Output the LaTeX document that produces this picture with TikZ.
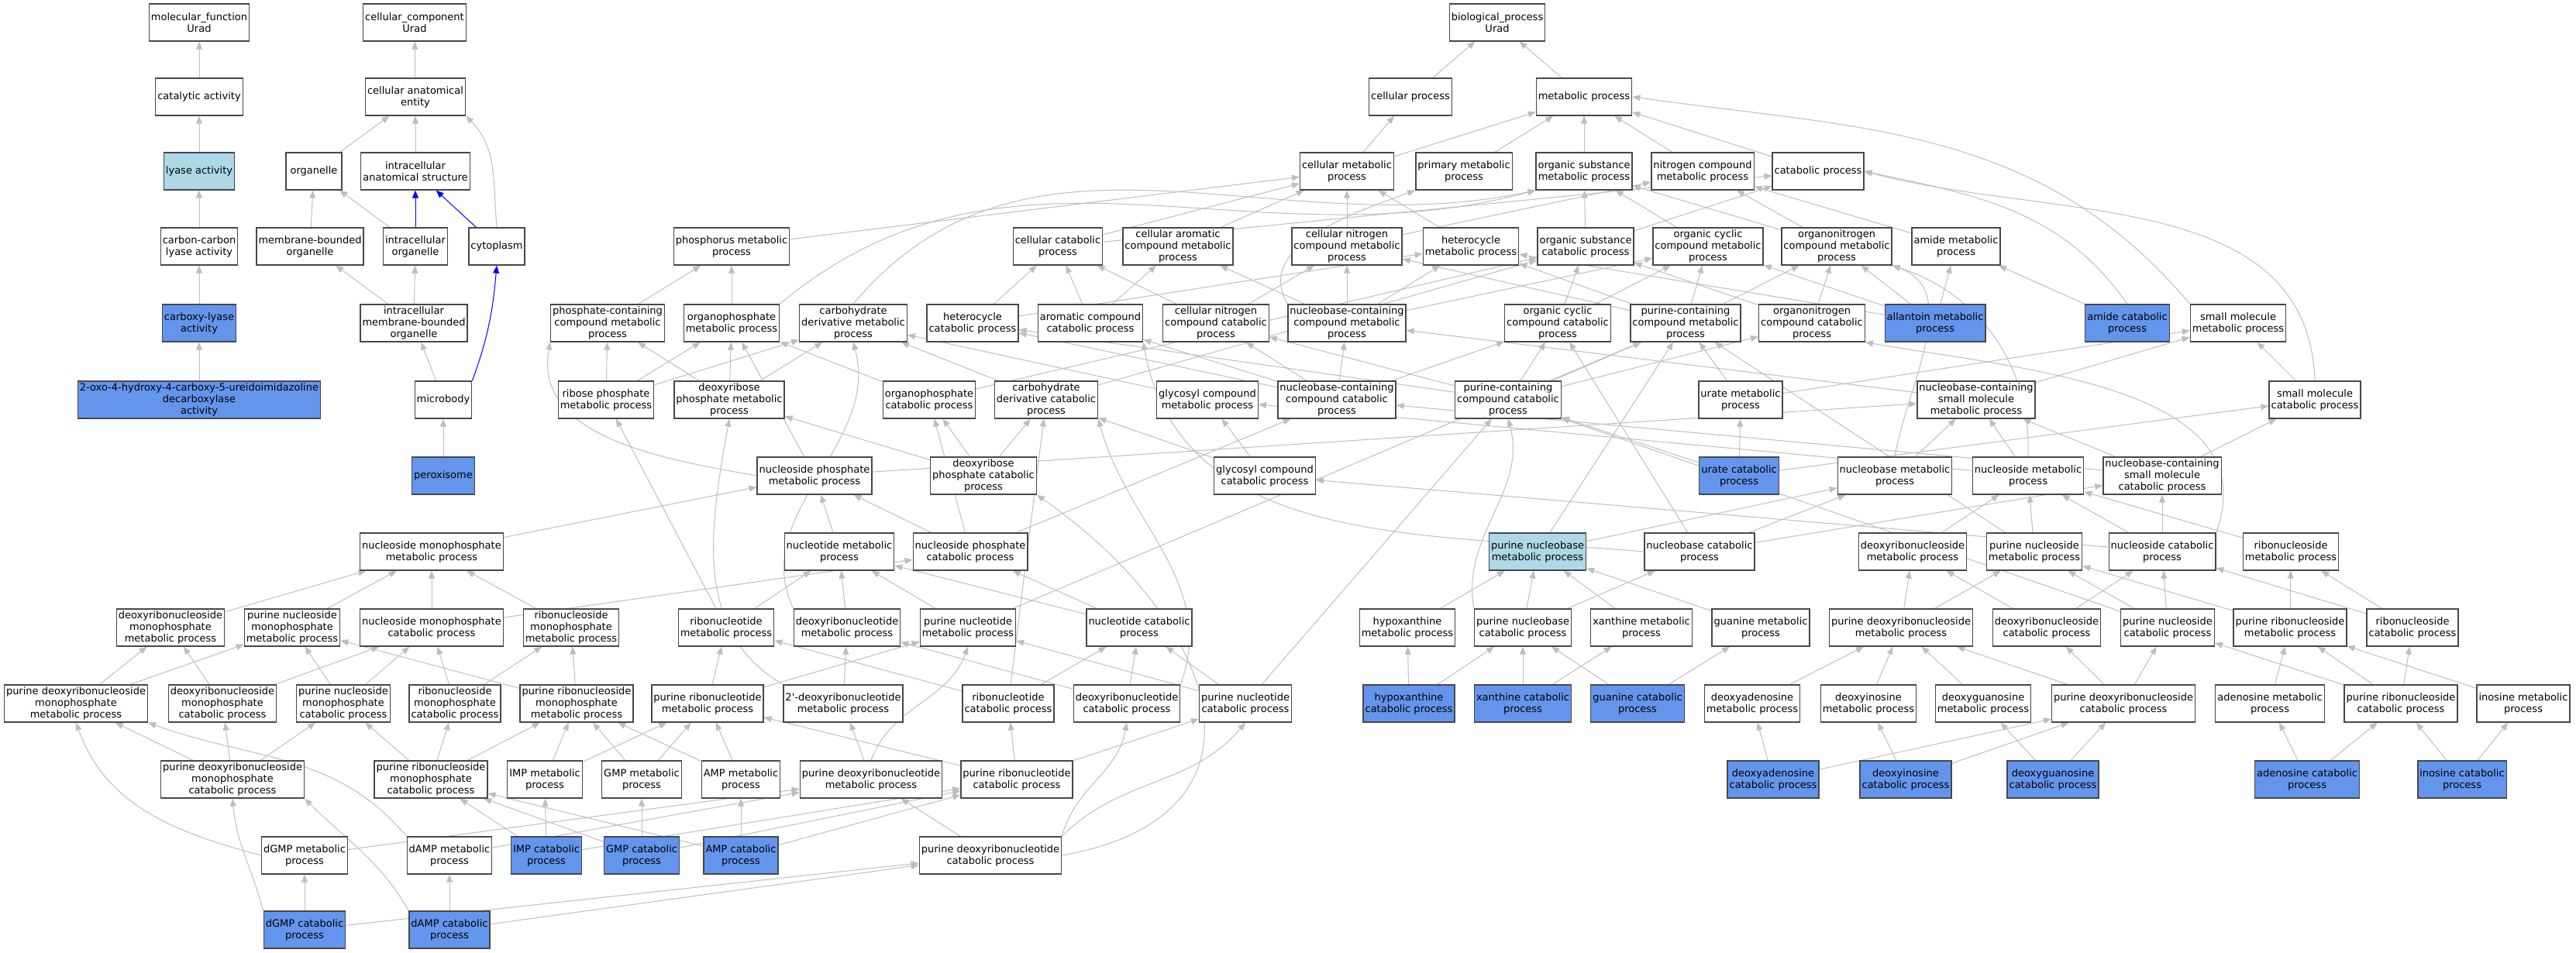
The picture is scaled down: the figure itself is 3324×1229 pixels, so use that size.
\documentclass[tikz,border=0pt]{standalone}
\usepackage{fontspec}
\setmainfont{DejaVu Sans}
\usetikzlibrary{arrows.meta,backgrounds}
\definecolor{sigblue}{HTML}{6495ED}
\definecolor{hitblue}{HTML}{ADD8E6}
\definecolor{edgegray}{HTML}{BEBEBE}
\begin{document}
\begin{tikzpicture}[x=1pt,y=-1pt,
    term/.style={draw=black!72, line width=1.3pt, fill=white, align=center,
      minimum width=72pt, minimum height=48pt, inner xsep=2.5pt, inner ysep=1pt,
      font=\fontsize{13}{15}\selectfont},
    sig/.style={term, fill=sigblue},
    hit/.style={term, fill=hitblue},
    isa/.style={draw=edgegray, line width=1pt, -{Triangle[length=10pt,width=8pt]}},
    partof/.style={isa, draw=blue}]
  \useasboundingbox (0,0) rectangle (3324,1229);
  % row 0
  \node[term] (mf) at (257,29) {molecular\_function\\Urad};
  \node[term] (cc) at (535,29) {cellular\_component\\Urad};
  \node[term] (bp) at (1932,29) {biological\_process\\Urad};
  % row 1
  \node[term] (catact) at (257,125) {catalytic activity};
  \node[term] (cae) at (536,125) {cellular anatomical\\entity};
  \node[term] (cellproc) at (1820,125) {cellular process};
  \node[term] (metproc) at (2044,125) {metabolic process};
  % row 2
  \node[hit] (lyase) at (257,221) {lyase activity};
  \node[term] (organelle) at (405,221) {organelle};
  \node[term] (ias) at (536,221) {intracellular\\anatomical structure};
  \node[term] (cellmet) at (1738,221) {cellular metabolic\\process};
  \node[term] (primet) at (1889,221) {primary metabolic\\process};
  \node[term] (orgsubmet) at (2044,221) {organic substance\\metabolic process};
  \node[term] (nitmet) at (2197,221) {nitrogen compound\\metabolic process};
  \node[term] (catproc) at (2346,221) {catabolic process};
  % row 3
  \node[term] (ccly) at (257,318) {carbon-carbon\\lyase activity};
  \node[term] (mbo) at (400,318) {membrane-bounded\\organelle};
  \node[term] (io) at (536,318) {intracellular\\organelle};
  \node[term] (cyto) at (641,318) {cytoplasm};
  \node[term] (phosmet) at (944,318) {phosphorus metabolic\\process};
  \node[term] (cellcat) at (1365,318) {cellular catabolic\\process};
  \node[term] (cellarom) at (1520,318) {cellular aromatic\\compound metabolic\\process};
  \node[term] (cellnitmet) at (1738,318) {cellular nitrogen\\compound metabolic\\process};
  \node[term] (hetmet) at (1898,318) {heterocycle\\metabolic process};
  \node[term] (orgsubcat) at (2046,318) {organic substance\\catabolic process};
  \node[term] (orgcycmet) at (2204,318) {organic cyclic\\compound metabolic\\process};
  \node[term] (orgnitmet) at (2370,318) {organonitrogen\\compound metabolic\\process};
  \node[term] (amidemet) at (2524,318) {amide metabolic\\process};
  % row 4
  \node[sig] (carboxy) at (257,417) {carboxy-lyase\\activity};
  \node[term] (imbo) at (534,417) {intracellular\\membrane-bounded\\organelle};
  \node[term] (phoscont) at (784,417) {phosphate-containing\\compound metabolic\\process};
  \node[term] (orgphosmet) at (944,417) {organophosphate\\metabolic process};
  \node[term] (carbdermet) at (1101,417) {carbohydrate\\derivative metabolic\\process};
  \node[term] (hetcat) at (1255,417) {heterocycle\\catabolic process};
  \node[term] (aromcat) at (1407,417) {aromatic compound\\catabolic process};
  \node[term] (cellnitcat) at (1569,417) {cellular nitrogen\\compound catabolic\\process};
  \node[term] (nbcmet) at (1738,417) {nucleobase-containing\\compound metabolic\\process};
  \node[term] (orgcyccat) at (2010,417) {organic cyclic\\compound catabolic\\process};
  \node[term] (purcmet) at (2175,417) {purine-containing\\compound metabolic\\process};
  \node[term] (orgnitcat) at (2338,417) {organonitrogen\\compound catabolic\\process};
  \node[sig] (allmet) at (2497,417) {allantoin metabolic\\process};
  \node[sig] (amidecat) at (2745,417) {amide catabolic\\process};
  \node[term] (smmet) at (2888,417) {small molecule\\metabolic process};
  % row 5
  \node[sig] (oxo) at (257,516) {2-oxo-4-hydroxy-4-carboxy-5-ureidoimidazoline\\decarboxylase\\activity};
  \node[term] (microbody) at (572,516) {microbody};
  \node[term] (ribphosmet) at (782,516) {ribose phosphate\\metabolic process};
  \node[term] (deoxphosmet) at (941,516) {deoxyribose\\phosphate metabolic\\process};
  \node[term] (orgphoscat) at (1199,516) {organophosphate\\catabolic process};
  \node[term] (carbdercat) at (1350,516) {carbohydrate\\derivative catabolic\\process};
  \node[term] (glycmet) at (1558,516) {glycosyl compound\\metabolic process};
  \node[term] (nbccat) at (1725,516) {nucleobase-containing\\compound catabolic\\process};
  \node[term] (purccat) at (1946,516) {purine-containing\\compound catabolic\\process};
  \node[term] (uratemet) at (2246,516) {urate metabolic\\process};
  \node[term] (nbcsmmet) at (2550,516) {nucleobase-containing\\small molecule\\metabolic process};
  \node[term] (smcat) at (2987,516) {small molecule\\catabolic process};
  % row 6
  \node[sig] (perox) at (572,614) {peroxisome};
  \node[term] (nsphosmet) at (1051,614) {nucleoside phosphate\\metabolic process};
  \node[term] (deoxphoscat) at (1269,614) {deoxyribose\\phosphate catabolic\\process};
  \node[term] (glyccat) at (1632,614) {glycosyl compound\\catabolic process};
  \node[sig] (uratecat) at (2244,614) {urate catabolic\\process};
  \node[term] (nbmet) at (2445,614) {nucleobase metabolic\\process};
  \node[term] (nsmet) at (2617,614) {nucleoside metabolic\\process};
  \node[term] (nbcsmcat) at (2790,614) {nucleobase-containing\\small molecule\\catabolic process};
  % row 7
  \node[term] (nsmpmet) at (557,712) {nucleoside monophosphate\\metabolic process};
  \node[term] (ntmet) at (1083,712) {nucleotide metabolic\\process};
  \node[term] (nsphoscat) at (1252,712) {nucleoside phosphate\\catabolic process};
  \node[hit] (purnbmet) at (1984,712) {purine nucleobase\\metabolic process};
  \node[term] (nbcat) at (2193,712) {nucleobase catabolic\\process};
  \node[term] (dnsmet) at (2468,712) {deoxyribonucleoside\\metabolic process};
  \node[term] (pnsmet) at (2625,712) {purine nucleoside\\metabolic process};
  \node[term] (nscat) at (2790,712) {nucleoside catabolic\\process};
  \node[term] (rnsmet) at (2956,712) {ribonucleoside\\metabolic process};
  % row 8
  \node[term] (dnsmpmet) at (220,810) {deoxyribonucleoside\\monophosphate\\metabolic process};
  \node[term] (pnsmpmet) at (377,810) {purine nucleoside\\monophosphate\\metabolic process};
  \node[term] (nsmpcat) at (557,810) {nucleoside monophosphate\\catabolic process};
  \node[term] (rnsmpmet) at (737,810) {ribonucleoside\\monophosphate\\metabolic process};
  \node[term] (rntmet) at (937,810) {ribonucleotide\\metabolic process};
  \node[term] (dntmet) at (1093,810) {deoxyribonucleotide\\metabolic process};
  \node[term] (pntmet) at (1249,810) {purine nucleotide\\metabolic process};
  \node[term] (ntcat) at (1470,810) {nucleotide catabolic\\process};
  \node[term] (hxmet) at (1816,810) {hypoxanthine\\metabolic process};
  \node[term] (purnbcat) at (1965,810) {purine nucleobase\\catabolic process};
  \node[term] (xanmet) at (2118,810) {xanthine metabolic\\process};
  \node[term] (guamet) at (2272,810) {guanine metabolic\\process};
  \node[term] (pdnsmet) at (2453,810) {purine deoxyribonucleoside\\metabolic process};
  \node[term] (dnscat) at (2641,810) {deoxyribonucleoside\\catabolic process};
  \node[term] (pnscat) at (2797,810) {purine nucleoside\\catabolic process};
  \node[term] (prnsmet) at (2955,810) {purine ribonucleoside\\metabolic process};
  \node[term] (rnscat) at (3113,810) {ribonucleoside\\catabolic process};
  % row 9
  \node[term] (pdnsmpmet) at (98,908) {purine deoxyribonucleoside\\monophosphate\\metabolic process};
  \node[term] (dnsmpcat) at (287,908) {deoxyribonucleoside\\monophosphate\\catabolic process};
  \node[term] (pnsmpcat) at (443,908) {purine nucleoside\\monophosphate\\catabolic process};
  \node[term] (rnsmpcat) at (587,908) {ribonucleoside\\monophosphate\\catabolic process};
  \node[term] (prnsmpmet) at (744,908) {purine ribonucleoside\\monophosphate\\metabolic process};
  \node[term] (prntmet) at (913,908) {purine ribonucleotide\\metabolic process};
  \node[term] (dntmettwo) at (1088,908) {2\textquotesingle-deoxyribonucleotide\\metabolic process};
  \node[term] (rntcat) at (1301,908) {ribonucleotide\\catabolic process};
  \node[term] (dntcat) at (1454,908) {deoxyribonucleotide\\catabolic process};
  \node[term] (pntcat) at (1607,908) {purine nucleotide\\catabolic process};
  \node[sig] (hxcat) at (1818,908) {hypoxanthine\\catabolic process};
  \node[sig] (xancat) at (1965,908) {xanthine catabolic\\process};
  \node[sig] (guacat) at (2113,908) {guanine catabolic\\process};
  \node[term] (damet) at (2261,908) {deoxyadenosine\\metabolic process};
  \node[term] (dimet) at (2411,908) {deoxyinosine\\metabolic process};
  \node[term] (dgmet) at (2559,908) {deoxyguanosine\\metabolic process};
  \node[term] (pdnscat) at (2740,908) {purine deoxyribonucleoside\\catabolic process};
  \node[term] (adomet) at (2929,908) {adenosine metabolic\\process};
  \node[term] (prnscat) at (3098,908) {purine ribonucleoside\\catabolic process};
  \node[term] (inomet) at (3256,908) {inosine metabolic\\process};
  % row 10
  \node[term] (pdnsmpcat) at (300,1006) {purine deoxyribonucleoside\\monophosphate\\catabolic process};
  \node[term] (prnsmpcat) at (556,1006) {purine ribonucleoside\\monophosphate\\catabolic process};
  \node[term] (impmet) at (703,1006) {IMP metabolic\\process};
  \node[term] (gmpmet) at (828,1006) {GMP metabolic\\process};
  \node[term] (ampmet) at (956,1006) {AMP metabolic\\process};
  \node[term] (pdntmet) at (1124,1006) {purine deoxyribonucleotide\\metabolic process};
  \node[term] (prntcat) at (1312,1006) {purine ribonucleotide\\catabolic process};
  \node[sig] (dacat) at (2288,1006) {deoxyadenosine\\catabolic process};
  \node[sig] (dicat) at (2459,1006) {deoxyinosine\\catabolic process};
  \node[sig] (dgcat) at (2649,1006) {deoxyguanosine\\catabolic process};
  \node[sig] (adocat) at (2977,1006) {adenosine catabolic\\process};
  \node[sig] (inocat) at (3177,1006) {inosine catabolic\\process};
  % row 11
  \node[term] (dgmpmet) at (393,1104) {dGMP metabolic\\process};
  \node[term] (dampmet) at (580,1104) {dAMP metabolic\\process};
  \node[sig] (impcat) at (705,1104) {IMP catabolic\\process};
  \node[sig] (gmpcat) at (828,1104) {GMP catabolic\\process};
  \node[sig] (ampcat) at (956,1104) {AMP catabolic\\process};
  \node[term] (pdntcat) at (1278,1104) {purine deoxyribonucleotide\\catabolic process};
  % row 12
  \node[sig] (dgmpcat) at (393,1200) {dGMP catabolic\\process};
  \node[sig] (dampcat) at (580,1200) {dAMP catabolic\\process};

  \begin{scope}[on background layer]
    % molecular function
    \draw[isa] (catact) -- (mf);
    \draw[isa] (lyase) -- (catact);
    \draw[isa] (ccly) -- (lyase);
    \draw[isa] (carboxy) -- (ccly);
    \draw[isa] (oxo) -- (carboxy);
    % cellular component
    \draw[isa] (cae) -- (cc);
    \draw[isa] (organelle) -- (cae);
    \draw[isa] (ias) -- (cae);
    \draw[isa] (cyto.north) to[out=95,in=-45] (cae.south east);
    \draw[isa] (mbo) -- (organelle);
    \draw[isa] (io) -- (organelle);
    \draw[partof] (io) -- (ias);
    \draw[partof] (cyto) -- (ias);
    \draw[isa] (imbo) -- (mbo);
    \draw[isa] (imbo) -- (io);
    \draw[isa] (microbody) -- (imbo);
    \draw[partof] (microbody.north east) to[out=70,in=-95] (cyto.south);
    \draw[isa] (perox) -- (microbody);
    % biological process, rows 1-3
    \draw[isa] (cellproc) -- (bp);
    \draw[isa] (metproc) -- (bp);
    \draw[isa] (cellmet) -- (cellproc);
    \draw[isa] (cellmet) -- (metproc);
    \draw[isa] (primet) -- (metproc);
    \draw[isa] (orgsubmet) -- (metproc);
    \draw[isa] (nitmet) -- (metproc);
    \draw[isa] (catproc) -- (metproc);
    \draw[isa] (smmet.north west) to[out=130,in=-8] (metproc.east);
    \draw[isa] (phosmet) -- (cellmet);
    \draw[isa] (cellcat) -- (cellmet);
    \draw[isa] (cellcat) -- (catproc);
    \draw[isa] (cellarom) -- (cellmet);
    \draw[isa] (cellnitmet) -- (cellmet);
    \draw[isa] (cellnitmet) -- (nitmet);
    \draw[isa] (hetmet) -- (cellmet);
    \draw[isa] (orgsubcat) -- (orgsubmet);
    \draw[isa] (orgsubcat) -- (catproc);
    \draw[isa] (orgcycmet) -- (orgsubmet);
    \draw[isa] (orgnitmet) -- (orgsubmet);
    \draw[isa] (orgnitmet) -- (nitmet);
    \draw[isa] (amidemet) -- (nitmet);
    % row 4
    \draw[isa] (phoscont) -- (phosmet);
    \draw[isa] (orgphosmet) -- (phosmet);
    \draw[isa] (orgphosmet.north east) to[out=40,in=195] (orgsubmet.south west);
    \draw[isa] (carbdermet.north) to[out=50,in=192] (orgsubmet.south west);
    \draw[isa] (hetcat) -- (hetmet);
    \draw[isa] (hetcat) -- (cellcat);
    \draw[isa] (aromcat) -- (cellcat);
    \draw[isa] (aromcat) -- (cellarom);
    \draw[isa] (cellnitcat) -- (cellcat);
    \draw[isa] (cellnitcat) -- (cellnitmet);
    \draw[isa] (nbcmet) -- (cellnitmet);
    \draw[isa] (nbcmet) -- (hetmet);
    \draw[isa] (nbcmet) -- (cellarom);
    \draw[isa] (nbcmet) -- (orgcycmet);
    \draw[isa] (nbcmet.north west) to[out=120,in=200] (primet.south west);
    \draw[isa] (orgcyccat) -- (orgsubcat);
    \draw[isa] (orgcyccat) -- (orgcycmet);
    \draw[isa] (purcmet) -- (cellnitmet);
    \draw[isa] (purcmet) -- (hetmet);
    \draw[isa] (purcmet) -- (orgcycmet);
    \draw[isa] (purcmet) -- (orgnitmet);
    \draw[isa] (orgnitcat) -- (orgsubcat);
    \draw[isa] (orgnitcat) -- (orgnitmet);
    \draw[isa] (allmet) -- (hetmet);
    \draw[isa] (allmet) -- (orgcycmet);
    \draw[isa] (allmet) -- (orgnitmet);
    \draw[isa] (allmet) -- (amidemet);
    \draw[isa] (amidecat) -- (amidemet);
    \draw[isa] (amidecat.north) to[out=125,in=-12] (catproc.east);
    \draw[isa] (smcat) -- (smmet);
    \draw[isa] (smcat.north) to[out=92,in=-15] (catproc.east);
    % row 5
    \draw[isa] (ribphosmet) -- (phoscont);
    \draw[isa] (ribphosmet) -- (orgphosmet);
    \draw[isa] (ribphosmet) -- (carbdermet);
    \draw[isa] (deoxphosmet) -- (phoscont);
    \draw[isa] (deoxphosmet) -- (orgphosmet);
    \draw[isa] (deoxphosmet) -- (carbdermet);
    \draw[isa] (orgphoscat) -- (orgphosmet);
    \draw[isa] (orgphoscat) -- (orgsubcat);
    \draw[isa] (carbdercat) -- (carbdermet);
    \draw[isa] (carbdercat) -- (orgsubcat);
    \draw[isa] (glycmet) -- (carbdermet);
    \draw[isa] (nbccat) -- (nbcmet);
    \draw[isa] (nbccat) -- (cellnitcat);
    \draw[isa] (nbccat) -- (hetcat);
    \draw[isa] (nbccat) -- (aromcat);
    \draw[isa] (nbccat) -- (orgcyccat);
    \draw[isa] (purccat) -- (purcmet);
    \draw[isa] (purccat) -- (orgcyccat);
    \draw[isa] (purccat) -- (orgnitcat);
    \draw[isa] (purccat) -- (hetcat);
    \draw[isa] (purccat) -- (cellnitcat);
    \draw[isa] (uratemet) -- (purcmet);
    \draw[isa] (uratemet) -- (smmet);
    \draw[isa] (nbcsmmet) -- (nbcmet);
    \draw[isa] (nbcsmmet) -- (smmet);
    % row 6
    \draw[isa] (nsphosmet.west) to[out=170,in=-100] (phoscont.south west);
    \draw[isa] (nsphosmet) -- (orgphosmet);
    \draw[isa] (nsphosmet) -- (nbcsmmet);
    \draw[isa] (deoxphoscat) -- (deoxphosmet);
    \draw[isa] (deoxphoscat) -- (orgphoscat);
    \draw[isa] (deoxphoscat) -- (carbdercat);
    \draw[isa] (glyccat) -- (glycmet);
    \draw[isa] (glyccat) -- (carbdercat);
    \draw[isa] (uratecat) -- (uratemet);
    \draw[isa] (uratecat) -- (purccat);
    \draw[isa] (uratecat) -- (smcat);
    \draw[isa] (nbmet) -- (nbcsmmet);
    \draw[isa] (nbmet.north) to[out=80,in=-20] (orgnitmet.south east);
    \draw[isa] (nsmet) -- (nbcsmmet);
    \draw[isa] (nsmet) -- (glycmet);
    \draw[isa] (nsmet.north) to[out=88,in=-18] (orgnitmet.south east);
    \draw[isa] (nbcsmcat) -- (nbcsmmet);
    \draw[isa] (nbcsmcat) -- (smcat);
    \draw[isa] (nbcsmcat) -- (nbccat);
    % row 7
    \draw[isa] (nsmpmet) -- (nsphosmet);
    \draw[isa] (ntmet) -- (nsphosmet);
    \draw[isa] (nsphoscat) -- (nsphosmet);
    \draw[isa] (nsphoscat) -- (orgphoscat);
    \draw[isa] (nsphoscat) -- (nbccat);
    \draw[isa] (purnbmet) -- (purcmet);
    \draw[isa] (purnbmet) -- (nbmet);
    \draw[isa] (nbcat) -- (nbmet);
    \draw[isa] (nbcat) -- (nbcsmcat);
    \draw[isa] (nbcat) -- (orgcyccat);
    \draw[isa] (nbcat.west) to[out=175,in=-80] (aromcat.south east);
    \draw[isa] (dnsmet) -- (nsmet);
    \draw[isa] (pnsmet) -- (nsmet);
    \draw[isa] (pnsmet) -- (purcmet);
    \draw[isa] (nscat) -- (nsmet);
    \draw[isa] (nscat) -- (nbcsmcat);
    \draw[isa] (nscat) -- (glyccat);
    \draw[isa] (nscat.north east) to[out=70,in=-10] (orgnitcat.south east);
    \draw[isa] (rnsmet) -- (nsmet);
    % row 8
    \draw[isa] (dnsmpmet) -- (nsmpmet);
    \draw[isa] (pnsmpmet) -- (nsmpmet);
    \draw[isa] (nsmpcat) -- (nsmpmet);
    \draw[isa] (nsmpcat) -- (nsphoscat);
    \draw[isa] (rnsmpmet) -- (nsmpmet);
    \draw[isa] (rntmet) -- (ntmet);
    \draw[isa] (rntmet) -- (ribphosmet);
    \draw[isa] (dntmet) -- (ntmet);
    \draw[isa] (dntmet.north west) to[out=115,in=-75] (carbdermet.south);
    \draw[isa] (pntmet) -- (ntmet);
    \draw[isa] (pntmet) -- (purcmet);
    \draw[isa] (ntcat) -- (ntmet);
    \draw[isa] (ntcat) -- (nsphoscat);
    \draw[isa] (hxmet) -- (purnbmet);
    \draw[isa] (purnbcat) -- (purnbmet);
    \draw[isa] (purnbcat) -- (nbcat);
    \draw[isa] (purnbcat.north west) to[out=100,in=-75] (purccat.south);
    \draw[isa] (xanmet) -- (purnbmet);
    \draw[isa] (guamet) -- (purnbmet);
    \draw[isa] (pdnsmet) -- (dnsmet);
    \draw[isa] (pdnsmet) -- (pnsmet);
    \draw[isa] (dnscat) -- (dnsmet);
    \draw[isa] (dnscat) -- (nscat);
    \draw[isa] (pnscat) -- (pnsmet);
    \draw[isa] (pnscat) -- (nscat);
    \draw[isa] (pnscat) -- (purccat);
    \draw[isa] (prnsmet) -- (pnsmet);
    \draw[isa] (prnsmet) -- (rnsmet);
    \draw[isa] (rnscat) -- (rnsmet);
    \draw[isa] (rnscat) -- (nscat);
    % row 9
    \draw[isa] (pdnsmpmet) -- (dnsmpmet);
    \draw[isa] (pdnsmpmet) -- (pnsmpmet);
    \draw[isa] (dnsmpcat) -- (dnsmpmet);
    \draw[isa] (dnsmpcat) -- (nsmpcat);
    \draw[isa] (pnsmpcat) -- (pnsmpmet);
    \draw[isa] (pnsmpcat) -- (nsmpcat);
    \draw[isa] (rnsmpcat) -- (nsmpcat);
    \draw[isa] (rnsmpcat) -- (rnsmpmet);
    \draw[isa] (prnsmpmet) -- (rnsmpmet);
    \draw[isa] (prnsmpmet) -- (pnsmpmet);
    \draw[isa] (prntmet) -- (rntmet);
    \draw[isa] (prntmet) -- (pntmet);
    \draw[isa] (dntmettwo) -- (dntmet);
    \draw[isa] (dntmettwo.north west) to[out=150,in=-100] (deoxphosmet.south);
    \draw[isa] (rntcat) -- (rntmet);
    \draw[isa] (rntcat) -- (ntcat);
    \draw[isa] (rntcat) -- (carbdercat);
    \draw[isa] (dntcat) -- (dntmet);
    \draw[isa] (dntcat) -- (ntcat);
    \draw[isa] (dntcat.north east) to[out=70,in=-75] (carbdercat.south east);
    \draw[isa] (pntcat) -- (pntmet);
    \draw[isa] (pntcat) -- (ntcat);
    \draw[isa] (pntcat) -- (purccat);
    \draw[isa] (hxcat) -- (hxmet);
    \draw[isa] (hxcat) -- (purnbcat);
    \draw[isa] (xancat) -- (purnbcat);
    \draw[isa] (xancat) -- (xanmet);
    \draw[isa] (guacat) -- (purnbcat);
    \draw[isa] (guacat) -- (guamet);
    \draw[isa] (damet) -- (pdnsmet);
    \draw[isa] (dimet) -- (pdnsmet);
    \draw[isa] (dgmet) -- (pdnsmet);
    \draw[isa] (pdnscat) -- (pdnsmet);
    \draw[isa] (pdnscat) -- (dnscat);
    \draw[isa] (pdnscat) -- (pnscat);
    \draw[isa] (adomet) -- (prnsmet);
    \draw[isa] (prnscat) -- (prnsmet);
    \draw[isa] (prnscat) -- (rnscat);
    \draw[isa] (prnscat) -- (pnscat);
    \draw[isa] (inomet) -- (prnsmet);
    % row 10
    \draw[isa] (pdnsmpcat) -- (pdnsmpmet);
    \draw[isa] (pdnsmpcat) -- (dnsmpcat);
    \draw[isa] (pdnsmpcat) -- (pnsmpcat);
    \draw[isa] (prnsmpcat) -- (pnsmpcat);
    \draw[isa] (prnsmpcat) -- (rnsmpcat);
    \draw[isa] (prnsmpcat) -- (prnsmpmet);
    \draw[isa] (impmet) -- (prnsmpmet);
    \draw[isa] (impmet) -- (prntmet);
    \draw[isa] (gmpmet) -- (prnsmpmet);
    \draw[isa] (gmpmet) -- (prntmet);
    \draw[isa] (ampmet) -- (prnsmpmet);
    \draw[isa] (ampmet) -- (prntmet);
    \draw[isa] (pdntmet) -- (dntmettwo);
    \draw[isa] (pdntmet.north) to[out=70,in=-110] (pntmet.south);
    \draw[isa] (prntcat) -- (prntmet);
    \draw[isa] (prntcat) -- (rntcat);
    \draw[isa] (prntcat) -- (pntcat);
    \draw[isa] (dacat) -- (damet);
    \draw[isa] (dacat) -- (pdnscat);
    \draw[isa] (dicat) -- (dimet);
    \draw[isa] (dicat) -- (pdnscat);
    \draw[isa] (dgcat) -- (dgmet);
    \draw[isa] (dgcat) -- (pdnscat);
    \draw[isa] (adocat) -- (adomet);
    \draw[isa] (adocat) -- (prnscat);
    \draw[isa] (inocat) -- (inomet);
    \draw[isa] (inocat) -- (prnscat);
    % row 11
    \draw[isa] (dgmpmet.west) to[out=165,in=-70] (pdnsmpmet.south);
    \draw[isa] (dgmpmet) -- (pdntmet);
    \draw[isa] (dampmet.north west) to[out=130,in=-20] (pdnsmpmet.south east);
    \draw[isa] (dampmet) -- (pdntmet);
    \draw[isa] (impcat) -- (impmet);
    \draw[isa] (impcat) -- (prnsmpcat);
    \draw[isa] (impcat) -- (prntcat);
    \draw[isa] (gmpcat) -- (gmpmet);
    \draw[isa] (gmpcat) -- (prnsmpcat);
    \draw[isa] (gmpcat) -- (prntcat);
    \draw[isa] (ampcat) -- (ampmet);
    \draw[isa] (ampcat) -- (prnsmpcat);
    \draw[isa] (ampcat) -- (prntcat);
    \draw[isa] (pdntcat) -- (pdntmet);
    \draw[isa] (pdntcat.north east) to[out=75,in=-100] (dntcat.south);
    \draw[isa] (pdntcat.north east) to[out=45,in=-130] (pntcat.south);
    \draw[isa] (pdntcat.east) to[out=10,in=-35,looseness=1.6] (deoxphoscat.south east);
    % row 12
    \draw[isa] (dgmpcat) -- (dgmpmet);
    \draw[isa] (dgmpcat.north west) to[out=105,in=-85] (pdnsmpcat.south);
    \draw[isa] (dgmpcat) -- (pdntcat);
    \draw[isa] (dampcat) -- (dampmet);
    \draw[isa] (dampcat.north west) to[out=120,in=-45] (pdnsmpcat.south east);
    \draw[isa] (dampcat) -- (pdntcat);
  \end{scope}
\end{tikzpicture}
\end{document}
